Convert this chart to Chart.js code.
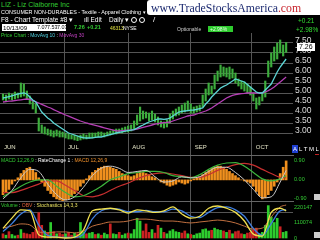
<!DOCTYPE html>
<html>
<head>
<meta charset="utf-8">
<script src="https://cdn.jsdelivr.net/npm/chart.js@4"></script>
<style>
  body { margin: 0; background: #000; width: 320px; height: 240px; overflow: hidden; position: relative;
         font-family: "Liberation Sans", Arial, sans-serif; }
  canvas { position: absolute; left: 0; }
  .t { position: absolute; white-space: nowrap; line-height: 1; z-index: 5; }
  .box { position: absolute; z-index: 5; }
  .mag { position: absolute; width: 4px; height: 4px; border: 1px solid #fff; border-radius: 50%; z-index: 5; }
</style>
</head>
<body>

<!-- header -->
<div class="t" style="left:1px;top:1px;font-size:7px;color:#33cc33">LIZ - Liz Claiborne Inc</div>
<div class="t" style="left:1px;top:9.5px;font-size:5.4px;color:#fff">CONSUMER NON-DURABLES - Textile - Apparel Clothing ▾</div>
<div class="t" style="left:1px;top:17px;font-size:6.5px;color:#fff">F8 - Chart Template #8 ▾</div>
<div class="t" style="left:84px;top:17px;font-size:6.5px;color:#fff">ıll Edit</div>
<div class="t" style="left:109px;top:17px;font-size:6.5px;color:#fff">Daily ▾</div>
<div class="mag" style="left:131px;top:17px"></div>
<div class="mag" style="left:139px;top:17px"></div>
<div class="t" style="left:153px;top:16px;font-size:8px;color:#fff">/</div>

<div class="box" style="left:147px;top:0;width:173px;height:15px;background:#fff;border-radius:3px 0 0 3px"></div>
<div class="t" style="left:151px;top:2.5px;font-size:11.8px;font-family:'Liberation Serif',serif;color:#1c2a70">www.TradeStocksAmerica<span style="color:#c8232c">.com</span></div>

<div class="box" style="left:2px;top:24px;width:64px;height:7px;background:#fff"></div>
<div class="t" style="left:3px;top:24.8px;font-size:6.2px;color:#000">10/13/09</div>
<div class="t" style="left:37px;top:25.2px;font-size:5.4px;color:#000">7.07</div>
<div class="t" style="left:47px;top:25.2px;font-size:5.4px;color:#000">7.53</div>
<div class="t" style="left:57px;top:25.2px;font-size:5.4px;color:#000">7.03</div>
<div class="t" style="left:74px;top:25px;font-size:5.5px;font-weight:bold;color:#33cc33">7.26</div>
<div class="t" style="left:87px;top:25px;font-size:5.5px;font-weight:bold;color:#33cc33">+0.21</div>
<div class="t" style="left:110px;top:25.5px;font-size:5px;color:#e0e040">46313</div>
<div class="t" style="left:123px;top:25.5px;font-size:5px;color:#fff">NYSE</div>
<div class="t" style="left:177px;top:26.5px;font-size:5px;color:#ccc">Optionable</div>
<div class="box" style="left:208px;top:26px;width:25px;height:6px;background:#2ecc2e"></div>
<div class="t" style="left:210px;top:26.5px;font-size:5px;color:#eaffea">+2.98%</div>
<div class="t" style="left:298px;top:18px;font-size:6.5px;color:#33dd33">+0.21</div>
<div class="t" style="left:296px;top:26.5px;font-size:6.5px;color:#33dd33">+2.98%</div>
<div class="t" style="left:1px;top:33px;font-size:5px;color:#fff"><span style="color:#33cc33">Price Chart</span> : <span style="color:#4fd0e0">MovAvg 10</span> : <span style="color:#c040c0">MovAvg 30</span></div>

<canvas id="price" width="320" height="122" style="top:33px"></canvas>
<canvas id="macd" width="320" height="46" style="top:155px"></canvas>
<canvas id="vol" width="320" height="39" style="top:201px"></canvas>

<div class="t" style="left:1px;top:158px;font-size:5px;color:#fff"><span style="color:#33cc33">MACD 12,26,9</span> : RateChange 1 : <span style="color:#f0902a">MACD 12,26,9</span></div>
<div class="t" style="left:1px;top:203px;font-size:5px;color:#fff"><span style="color:#33cc33">Volume</span> : <span style="color:#e0603a">OBV</span> : <span style="color:#e8e060">Stochastics 14,3,3</span></div>

<div class="box" style="left:292px;top:145px;width:6px;height:8px;background:#1f3fd0"></div>
<div class="t" style="left:293px;top:146px;font-size:6px;color:#fff">A</div>
<div class="t" style="left:299px;top:146px;font-size:6px;color:#fff">L T M L</div>
<div class="box" style="left:315px;top:154px;width:4px;height:1px;background:#c02020"></div>
<div class="box" style="left:314px;top:194px;width:6px;height:6px;background:#ccc"></div>
<div class="box" style="left:314px;top:232px;width:6px;height:6px;background:#ccc"></div>

<script>
// daily bars, one per trading day (late May .. Oct 13 2009)
const lows = [4.65,4.6,4.7,4.65,4.7,4.75,4.8,4.85,4.7,4.45,
  4.2,4.0,3.1,3.0,2.95,2.9,2.85,2.8,2.85,2.8,
  2.8,2.75,2.7,2.7,2.65,2.6,2.65,2.7,2.7,2.75,
  2.75,2.8,2.8,2.85,2.8,2.85,2.9,2.95,2.95,3.0,
  3.0,3.05,3.05,3.1,3.2,3.4,3.6,3.7,3.75,3.6,
  3.65,3.55,3.4,3.3,3.25,3.3,3.5,3.7,3.85,3.9,
  4.0,4.05,4.1,4.0,4.0,4.05,4.1,4.3,4.6,4.9,
  4.95,5.2,5.6,5.8,5.85,5.8,5.7,5.75,5.5,5.35,
  5.2,5.1,5.0,4.9,4.6,4.2,4.4,4.6,4.8,5.8,
  6.3,6.6,6.7,7.0,6.85,7.03];
const highs = [4.95,4.9,5.0,4.95,5.05,5.0,5.5,5.45,5.1,4.85,
  4.6,4.45,3.75,3.4,3.3,3.2,3.15,3.1,3.15,3.1,
  3.05,3.0,2.95,2.9,2.9,2.85,2.9,2.95,2.9,3.0,
  3.0,3.0,3.05,3.05,3.0,3.05,3.1,3.15,3.2,3.2,
  3.25,3.3,3.35,3.4,3.6,3.9,4.3,4.1,4.05,4.0,
  4.1,3.95,3.8,3.6,3.55,3.65,3.95,4.1,4.2,4.3,
  4.4,4.5,4.6,4.45,4.3,4.35,4.4,4.9,5.2,5.5,
  5.35,5.9,6.1,6.4,6.3,6.25,6.3,6.2,6.0,5.7,
  5.6,5.55,5.45,5.3,5.0,4.75,4.8,5.0,5.6,6.6,
  7.0,7.3,7.5,7.65,7.4,7.53];
const lastClose = 7.26;
const ma10 = [4.75,4.78,4.82,4.86,4.9,4.95,4.98,5.0,4.95,4.8,
  4.65,4.55,4.3,4.05,3.9,3.75,3.65,3.5,3.4,3.3,
  3.2,3.1,3.0,2.95,2.9,2.85,2.8,2.77,2.75,2.75,
  2.76,2.78,2.8,2.8,2.84,2.88,2.92,2.96,3.0,3.03,
  3.06,3.09,3.12,3.14,3.17,3.25,3.33,3.4,3.48,3.55,
  3.6,3.65,3.7,3.7,3.68,3.7,3.75,3.85,3.95,4.05,
  4.08,4.1,4.12,4.14,4.15,4.18,4.22,4.25,4.45,4.6,
  4.8,4.95,5.1,5.25,5.33,5.4,5.5,5.6,5.7,5.65,
  5.6,5.55,5.42,5.3,5.18,5.05,5.0,5.0,5.15,5.3,
  5.45,5.75,6.05,6.3,6.5,6.7];
const ma30 = [4.55,4.57,4.59,4.6,4.62,4.64,4.66,4.68,4.7,4.68,
  4.62,4.56,4.5,4.43,4.37,4.3,4.25,4.17,4.1,4.03,
  3.97,3.9,3.84,3.78,3.72,3.66,3.6,3.55,3.5,3.46,
  3.42,3.38,3.34,3.3,3.26,3.22,3.18,3.14,3.11,3.1,
  3.12,3.13,3.14,3.15,3.17,3.2,3.24,3.28,3.32,3.36,
  3.4,3.44,3.47,3.5,3.52,3.53,3.55,3.6,3.65,3.7,
  3.75,3.8,3.85,3.88,3.9,3.95,4.0,4.05,4.1,4.17,
  4.25,4.35,4.45,4.55,4.65,4.75,4.82,4.88,4.92,4.95,
  4.97,4.98,5.0,5.0,5.0,5.0,5.0,5.0,5.05,5.12,
  5.2,5.3,5.42,5.55,5.68,5.8];
const priceTicks = [3.0,3.5,4.0,4.5,5.0,5.5,6.0,6.5,7.0,7.5];

// month breaks in bar-index units (first one = left edge, label only)
const monthBreaks = [-1, 20.5, 42, 63, 83.5];
const monthLabels = ['JUN','JUL','AUG','SEP','OCT'];

// MACD panel
const macdHist = [-0.7,-0.6,-0.45,-0.2,-0.05,0.1,0.3,0.45,0.55,0.6,
  0.5,0.35,0.1,-0.1,-0.3,-0.5,-0.65,-0.8,-0.9,-0.95,
  -1.0,-0.95,-0.9,-0.8,-0.65,-0.5,-0.3,-0.15,0.05,0.2,
  0.35,0.45,0.55,0.6,0.65,0.65,0.6,0.55,0.5,0.4,
  0.3,0.25,0.2,0.15,0.2,0.3,0.4,0.35,0.3,0.25,
  0.15,0.1,0.0,-0.1,-0.15,-0.25,-0.3,-0.25,-0.2,-0.1,
  -0.15,-0.2,-0.15,-0.05,0.05,0.1,0.15,0.25,0.35,0.45,
  0.55,0.6,0.65,0.65,0.6,0.5,0.4,0.3,0.2,0.1,
  0.0,-0.05,-0.1,-0.15,-0.3,-0.55,-0.75,-0.9,-0.85,-0.7,
  -0.5,-0.3,-0.1,0.3,0.6,0.9];
// smooth indicator lines are read every third bar
const lineIdx = [0,3,6,9,12,15,18,21,24,27,30,33,36,39,42,45,48,51,54,57,60,63,66,69,72,75,78,81,84,87,90,93,95];
const macdLine = [-0.8,-0.55,-0.3,-0.1,0.0,0.0,-0.3,-0.6,-0.8,-0.75,-0.55,-0.3,0.0,0.15,0.3,0.35,0.4,0.4,0.35,0.2,0.15,0.1,0.25,0.5,0.7,0.8,0.82,0.65,0.35,0.05,-0.05,0.05,0.2];
const macdSignal = [-0.6,-0.6,-0.5,-0.35,-0.2,-0.05,-0.05,-0.25,-0.5,-0.75,-0.8,-0.7,-0.5,-0.3,-0.15,0.05,0.2,0.3,0.33,0.28,0.2,0.12,0.12,0.25,0.45,0.6,0.72,0.78,0.7,0.5,0.3,0.12,0.1];
const rateChange = [-0.9,-0.5,0.1,0.5,0.4,-0.2,-0.7,-0.95,-0.8,-0.35,0.2,0.55,0.65,0.55,0.35,0.4,0.45,0.15,-0.1,-0.05,0.15,0.1,0.15,0.4,0.6,0.6,0.35,0.0,-0.45,-0.85,-0.8,-0.1,0.45];
const macdTicks = [-0.9, 0, 0.9];

// volume panel
const volume = [30000,20000,45000,25000,15000,20000,60000,35000,30000,25000,
  40000,55000,180000,90000,50000,40000,110000,45000,30000,35000,
  25000,30000,40000,20000,35000,30000,110000,45000,30000,35000,
  40000,25000,30000,20000,35000,25000,100000,30000,25000,40000,
  20000,30000,35000,30000,60000,140000,120000,50000,100000,40000,
  60000,35000,90000,70000,40000,30000,50000,60000,45000,40000,
  35000,50000,30000,25000,20000,30000,35000,60000,65000,50000,
  55000,70000,60000,55000,50000,40000,55000,30000,45000,50000,
  30000,25000,35000,40000,60000,70000,30000,40000,90000,230000,
  150000,110000,140000,80000,40000,46313];
const volUp = [0,1,0,1,1,0,1,0,0,0,
  0,0,0,0,1,0,1,0,1,0,
  0,1,0,0,1,0,1,1,0,1,
  1,0,1,0,1,1,0,1,1,0,
  1,1,0,1,1,1,1,0,0,0,
  1,0,0,1,0,1,1,1,1,1,
  0,0,1,0,1,1,1,1,1,1,
  0,1,1,1,0,1,0,1,0,0,
  0,1,0,0,0,0,1,1,1,1,
  1,1,1,0,1,1];
const volTicks = [0, 110074, 220147];
const stochK = [30,62,88,85,10,3,3,0,3,25,85,90,93,88,78,88,85,80,85,97,75,62,68,93,100,93,80,53,12,6,80,93,85];
const stochD = [20,45,75,88,40,8,3,2,2,12,60,85,92,90,82,82,86,82,82,90,85,68,64,80,95,97,88,68,30,8,45,85,88];
const obv = [31,37,44,41,19,16,19,19,16,22,37,44,50,50,53,59,59,56,53,53,50,47,50,53,56,53,47,37,28,31,66,97,103];

Chart.defaults.font.family = '"Liberation Sans", Arial, sans-serif';
const gridColor = '#555555';
const xMin = -1, xMax = 97.3;

function xScale(showLabels) {
  return {
    type: 'linear', min: xMin, max: xMax, offset: false,
    position: showLabels ? 'bottom' : 'top',
    afterBuildTicks: (s) => { s.ticks = monthBreaks.map((v) => ({ value: v })); },
    afterFit: (s) => { s.height = showLabels ? 14 : 0; s.paddingLeft = 0; s.paddingRight = 0; },
    grid: {
      color: (c) => (c.index === 0 ? 'rgba(0,0,0,0)' : gridColor),
      drawTicks: showLabels, tickLength: 14, offset: false,
    },
    border: { display: !showLabels, color: '#666' },
    ticks: {
      display: showLabels, autoSkip: false, maxRotation: 0, align: 'start',
      labelOffset: 4, padding: -11, color: '#e6e6c8', font: { size: 6 },
      callback: (v, i) => monthLabels[i],
    },
  };
}

function rightAxis(min, max, ticks, opts) {
  return {
    position: 'right', min, max,
    afterBuildTicks: (s) => { s.ticks = ticks.map((v) => ({ value: v })); },
    afterFit: (s) => { s.width = 27; s.paddingTop = 0; s.paddingBottom = 0; },
    grid: { display: opts.grid, color: gridColor, drawTicks: false },
    border: { display: false },
    ticks: {
      autoSkip: false, color: opts.color, padding: opts.padding, labelOffset: opts.offset || 0,
      font: { size: opts.size }, callback: opts.fmt,
    },
  };
}

const base = {
  responsive: false, animation: false, events: [],
  layout: { padding: 0 },
  plugins: { legend: { display: false }, tooltip: { enabled: false } },
};

const pts = (arr) => arr.map((v, i) => ({ x: i, y: v }));
const sparse = (arr) => arr.map((v, i) => ({ x: lineIdx[i], y: v }));

// last price tag on the right axis
const lastTag = {
  id: 'lastTag',
  afterDraw(chart) {
    const y = Math.round(chart.scales.y.getPixelForValue(lastClose));
    const ctx = chart.ctx;
    ctx.save();
    ctx.fillStyle = '#fff';
    ctx.fillRect(297, y - 5, 18, 8);
    ctx.fillStyle = '#000';
    ctx.font = '7px "Liberation Sans"';
    ctx.textBaseline = 'middle';
    ctx.fillText(lastClose.toFixed(2), 299, y - 1);
    ctx.restore();
  },
};

new Chart(document.getElementById('price'), {
  type: 'bar',
  data: {
    datasets: [
      { type: 'line', data: pts(ma10), borderColor: '#5cd6d6', borderWidth: 1.3, pointRadius: 0, tension: 0, order: 0 },
      { type: 'line', data: pts(ma30), borderColor: '#b63fb6', borderWidth: 1.3, pointRadius: 0, tension: 0, order: 1 },
      { type: 'bar', data: highs.map((h, i) => ({ x: i, y: [lows[i], h] })), backgroundColor: '#3dae3d',
        barThickness: 1.5, grouped: false, order: 2 },
    ],
  },
  options: {
    ...base,
    scales: {
      x: xScale(true),
      y: rightAxis(2.6, 8.0, priceTicks, { grid: true, color: '#dddddd', padding: 2, offset: -2, size: 8.5, fmt: (v) => v.toFixed(2) }),
    },
  },
  plugins: [lastTag],
});

new Chart(document.getElementById('macd'), {
  type: 'bar',
  data: {
    datasets: [
      { type: 'line', data: sparse(rateChange), borderColor: '#c8c8c8', borderWidth: 1, pointRadius: 0, cubicInterpolationMode: 'monotone', order: 0 },
      { type: 'line', data: sparse(macdLine), borderColor: '#3cb43c', borderWidth: 1.2, pointRadius: 0, cubicInterpolationMode: 'monotone', order: 1 },
      { type: 'line', data: sparse(macdSignal), borderColor: '#c83030', borderWidth: 1.2, pointRadius: 0, cubicInterpolationMode: 'monotone', order: 2 },
      { type: 'bar', data: pts(macdHist), backgroundColor: '#f0901e', barThickness: 2, grouped: false, order: 3 },
    ],
  },
  options: {
    ...base,
    scales: {
      x: xScale(false),
      y: rightAxis(-1.0, 1.18, macdTicks, { grid: false, color: '#33cc33', padding: 1, size: 5.5, fmt: (v) => v.toFixed(2) }),
    },
  },
});

new Chart(document.getElementById('vol'), {
  type: 'bar',
  data: {
    datasets: [
      { type: 'line', yAxisID: 's', data: sparse(stochK), borderColor: '#f0e050', borderWidth: 1.3, pointRadius: 0, cubicInterpolationMode: 'monotone', order: 0 },
      { type: 'line', yAxisID: 's', data: sparse(stochD), borderColor: '#3f7fe0', borderWidth: 1.3, pointRadius: 0, cubicInterpolationMode: 'monotone', order: 1 },
      { type: 'line', yAxisID: 's', data: sparse(obv), borderColor: '#c07040', borderWidth: 1, pointRadius: 0, cubicInterpolationMode: 'monotone', order: 2 },
      { type: 'bar', yAxisID: 'y', data: pts(volume), backgroundColor: volUp.map((u) => (u ? '#2ecc2e' : '#cc2222')),
        barThickness: 2, grouped: false, order: 3 },
    ],
  },
  options: {
    ...base,
    scales: {
      x: xScale(false),
      y: rightAxis(-14203, 262756, volTicks, { grid: false, color: '#33cc33', padding: 1, size: 5.5, fmt: (v) => String(v) }),
      s: {
        position: 'left', min: -6.25, max: 115.6,
        afterBuildTicks: (s) => { s.ticks = [{ value: 80 }]; },
        afterFit: (s) => { s.width = 0; s.paddingTop = 0; s.paddingBottom = 0; },
        grid: { color: gridColor, drawTicks: false },
        border: { display: false },
        ticks: { display: false },
      },
    },
  },
});
</script>
</body>
</html>
